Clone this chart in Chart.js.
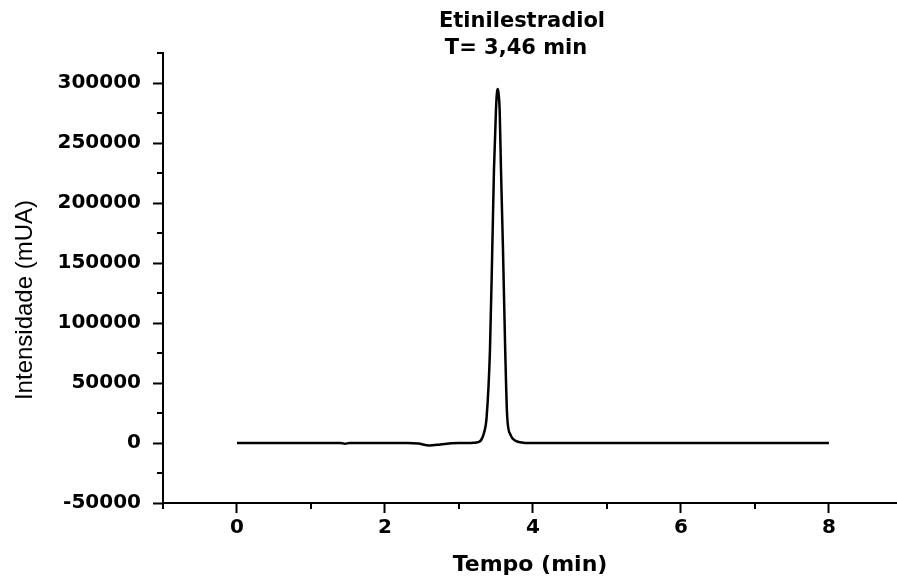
<!DOCTYPE html>
<html>
<head>
<meta charset="utf-8">
<script src="https://cdn.jsdelivr.net/npm/chart.js@4.4.0/dist/chart.umd.min.js"></script>
<style>
html,body{margin:0;padding:0;background:#fff;overflow:hidden;}
#wrap{position:relative;width:897px;height:579px;}
</style>
</head>
<body>
<div id="wrap"><canvas id="c"></canvas></div>
<script>
// Data
const times = [0, 0.5, 1.0, 1.4, 1.46, 1.52, 2.0, 2.3, 2.45, 2.6, 2.75, 2.9, 3.0, 3.1, 3.2, 3.26, 3.3, 3.338, 3.374, 3.419, 3.45, 3.473, 3.50, 3.512, 3.523, 3.536, 3.55, 3.568, 3.595, 3.625, 3.652, 3.695, 3.757, 3.85, 3.92, 4.5, 5.0, 6.0, 7.0, 8.0];
const values = [0, 0, 0, 0, -700, 0, 0, 0, -500, -2000, -1200, -300, 0, 0, 200, 800, 2500, 8300, 21700, 77500, 160800, 227500, 277500, 291000, 295000, 291000, 277500, 227500, 160800, 77500, 21700, 7000, 2000, 500, 0, 0, 0, 0, 0, 0];
const titleLines = ["Etinilestradiol", "T= 3,46 min"];
const xTitle = "Tempo (min)";
const yTitle = "Intensidade (mUA)";
const xRange = [-1, 8.92];
const yRange = [-50000, 325000];
const xLabelStep = 2;
const yLabelStep = 50000;

const tickFont = {family: "'DejaVu Sans'", size: 20, weight: 'bold'};

const extras = {
  id: 'extras',
  afterDraw(chart) {
    const ctx = chart.ctx;
    const xs = chart.scales.x, ys = chart.scales.y;
    const area = chart.chartArea;
    ctx.save();
    ctx.strokeStyle = '#000';
    ctx.lineWidth = 2;
    // minor ticks
    xs.ticks.forEach(t => {
      if (Math.abs(t.value % xLabelStep) > 1e-6) {
        const px = Math.round(xs.getPixelForValue(t.value));
        ctx.beginPath(); ctx.moveTo(px, area.bottom); ctx.lineTo(px, area.bottom + 6); ctx.stroke();
      }
    });
    ys.ticks.forEach(t => {
      if (Math.abs(t.value % yLabelStep) > 1e-6) {
        const py = Math.round(ys.getPixelForValue(t.value));
        ctx.beginPath(); ctx.moveTo(area.left, py); ctx.lineTo(area.left - 6, py); ctx.stroke();
      }
    });
    // title
    ctx.fillStyle = '#000';
    ctx.textAlign = 'center';
    ctx.textBaseline = 'middle';
    ctx.font = "bold 21px 'DejaVu Sans'";
    ctx.fillText(titleLines[0], 522, 22);
    ctx.fillText(titleLines[1], 516, 49);
    // axis titles
    ctx.font = "bold 22px 'DejaVu Sans'";
    ctx.fillText(xTitle, (area.left + area.right) / 2, 565);
    ctx.save();
    ctx.translate(25, 300);
    ctx.rotate(-Math.PI / 2);
    ctx.font = "24px 'Liberation Sans'";
    ctx.fillText(yTitle, 0, 0);
    ctx.restore();
    ctx.restore();
  }
};

new Chart(document.getElementById('c'), {
  type: 'line',
  data: {
    datasets: [{
      data: times.map((t, i) => ({x: t, y: values[i]})),
      borderColor: '#000',
      borderWidth: 2.5,
      pointRadius: 0,
      fill: false,
      cubicInterpolationMode: 'monotone'
    }]
  },
  options: {
    responsive: true,
    maintainAspectRatio: false,
    animation: false,
    layout: {padding: {top: 53, right: 0, left: 0, bottom: 0}},
    plugins: {legend: {display: false}, title: {display: false}, tooltip: {enabled: false}},
    scales: {
      x: {
        type: 'linear',
        min: xRange[0], max: xRange[1],
        afterFit(s) { s.height = 76; },
        grid: {
          drawOnChartArea: false, drawTicks: true, tickLength: 10, tickWidth: 2,
          tickColor: c => (c.tick && Math.abs(c.tick.value % xLabelStep) < 1e-6) ? '#000' : 'rgba(0,0,0,0)'
        },
        border: {display: true, color: '#000', width: 2},
        ticks: {
          stepSize: 1, includeBounds: false, autoSkip: false, maxRotation: 0,
          padding: 3, color: '#000', font: tickFont,
          callback: v => (Math.abs(v % xLabelStep) < 1e-6) ? String(v) : ''
        }
      },
      y: {
        min: yRange[0], max: yRange[1],
        afterFit(s) { s.width = 163; },
        grid: {
          drawOnChartArea: false, drawTicks: true, tickLength: 10, tickWidth: 2,
          tickColor: c => (c.tick && Math.abs(c.tick.value % yLabelStep) < 1e-6) ? '#000' : 'rgba(0,0,0,0)'
        },
        border: {display: true, color: '#000', width: 2},
        ticks: {
          stepSize: 25000, includeBounds: false, autoSkip: false,
          padding: 12, color: '#000', font: tickFont,
          callback: v => (Math.abs(v % yLabelStep) < 1e-6) ? String(v) : ''
        }
      }
    }
  },
  plugins: [extras]
});
</script>
</body>
</html>
